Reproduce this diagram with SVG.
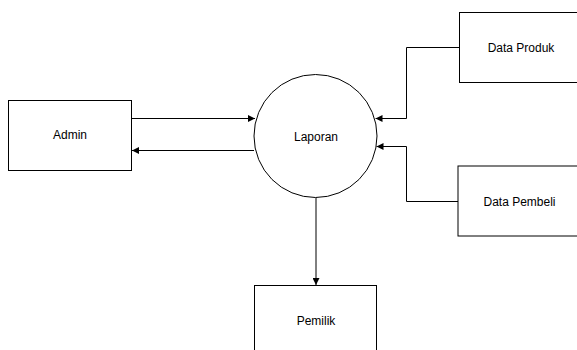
<svg xmlns="http://www.w3.org/2000/svg" width="577" height="350" viewBox="0 0 577 350">
<style>
.box{fill:#fff;stroke:#000;stroke-width:1}
.lbl{font-family:"Liberation Sans",Arial,sans-serif;font-size:12px;fill:#000;text-anchor:middle}
.con{fill:none;stroke:#000;stroke-width:1}
</style>
<defs>
<marker id="arr" viewBox="0 0 10 10" refX="10" refY="5" markerWidth="7" markerHeight="7" markerUnits="userSpaceOnUse" orient="auto">
<path d="M0,0 L10,5 L0,10 Z" fill="#000"/>
</marker>
</defs>
<rect width="577" height="350" fill="#fff"/>
<g id="connectors">
<path class="con" d="M131.5,118.5 H255" marker-end="url(#arr)"/>
<path class="con" d="M254,150.5 H132" marker-end="url(#arr)"/>
<path class="con" d="M459.5,47.5 H406.5 V118.5 H375.5" marker-end="url(#arr)"/>
<path class="con" d="M458,201.5 H406.5 V146.5 H376.5" marker-end="url(#arr)"/>
<path class="con" d="M316,198 V285" marker-end="url(#arr)"/>
</g>
<g id="admin">
<rect class="box" x="8.5" y="100.5" width="123" height="70"/>
<text class="lbl" x="70" y="139">Admin</text>
</g>
<g id="laporan">
<circle class="box" cx="315.5" cy="136" r="61.5"/>
<text class="lbl" x="316" y="141">Laporan</text>
</g>
<g id="data-produk">
<rect class="box" x="459.5" y="12.5" width="130" height="70"/>
<text class="lbl" x="521" y="52">Data Produk</text>
</g>
<g id="data-pembeli">
<rect class="box" x="458" y="166" width="130" height="70"/>
<text class="lbl" x="519.5" y="206">Data Pembeli</text>
</g>
<g id="pemilik">
<rect class="box" x="254.5" y="285.5" width="122" height="80"/>
<text class="lbl" x="316" y="325">Pemilik</text>
</g>
</svg>
